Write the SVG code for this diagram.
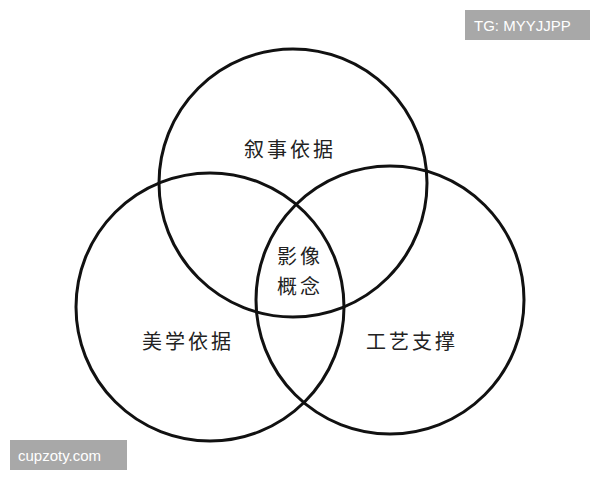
<svg xmlns="http://www.w3.org/2000/svg" width="600" height="480" viewBox="0 0 600 480">
<style>
.c{fill:none;stroke:#111;stroke-width:3}
.t{font-family:"Noto Sans CJK SC",sans-serif;font-size:20px;fill:#222;text-anchor:middle;letter-spacing:3px}
.w{font-family:"Liberation Sans",sans-serif;font-size:15px;fill:#fff}
</style>
<rect width="600" height="480" fill="#fff"/>
<g id="connectors"></g>
<g id="top"><circle class="c" cx="293" cy="183" r="134"/><text class="t" x="290" y="157">叙事依据</text></g>
<g id="left"><circle class="c" cx="210" cy="307" r="134"/><text class="t" x="188" y="349">美学依据</text></g>
<g id="right"><circle class="c" cx="390" cy="300" r="134"/><text class="t" x="412" y="349">工艺支撑</text></g>
<g id="center"><text class="t" x="300" y="264">影像</text><text class="t" x="300" y="294">概念</text></g>
<g id="wm1"><rect x="465" y="10" width="125" height="30" fill="#a8a8a8"/><text class="w" x="474" y="31">TG: MYYJJPP</text></g>
<g id="wm2"><rect x="10" y="440" width="117" height="30" fill="#a8a8a8"/><text class="w" x="18" y="461">cupzoty.com</text></g>
</svg>
